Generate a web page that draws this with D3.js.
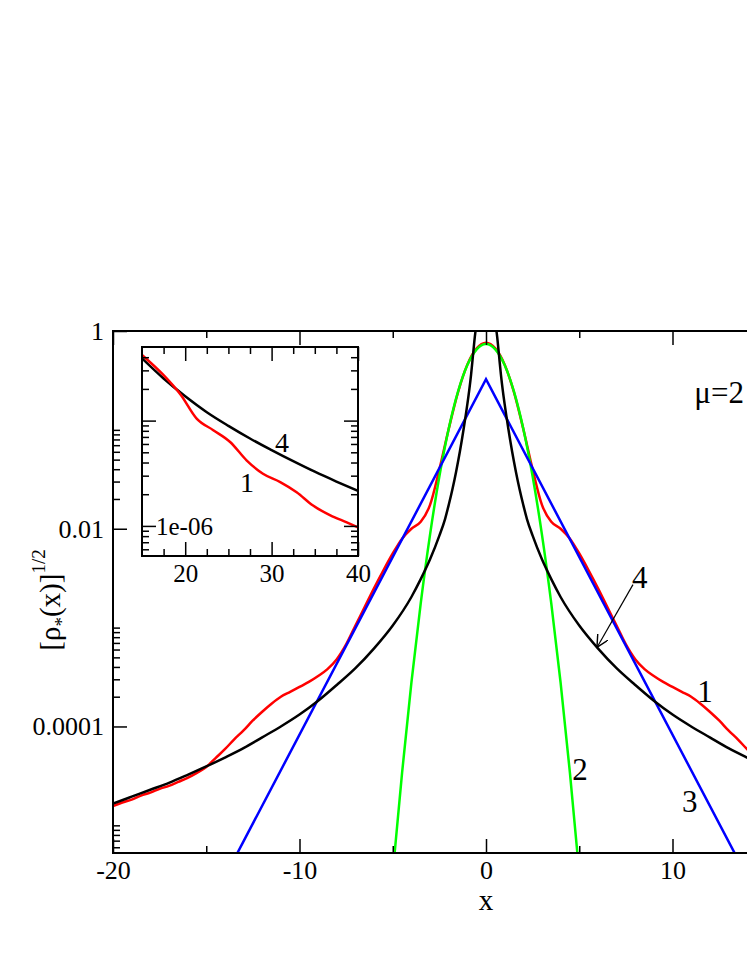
<!DOCTYPE html>
<html>
<head>
<meta charset="utf-8">
<script src="https://cdn.jsdelivr.net/npm/d3@7"></script>
<style>
  body { margin: 0; background: #fff; }
  svg { display: block; }
  text { font-family: 'Liberation Serif', 'Times New Roman', serif; fill: #000; }
</style>
</head>
<body>
<div id="chart"></div>
<script>
// ---- data ----
// curve 1, red
const redX = [-20, -19.5, -19, -18.5, -18, -17.5, -17, -16.5, -16, -15.5, -15, -14.5, -14, -13.5, -13, -12.5, -12, -11.5, -11, -10.5,
  -10, -9.5, -9, -8.5, -8, -7.5, -7, -6.5, -6, -5.5, -5, -4.5, -4, -3.5, -3, -2.5, -2, -1.5, -1, -0.5,
  0, 0.5, 1, 1.5, 2, 2.5, 3, 3.5, 4, 4.5, 5, 5.5, 6, 6.5, 7, 7.5, 8, 8.5, 9, 9.5,
  10, 10.5, 11, 11.5, 12, 12.5, 13, 13.5, 14, 14.5, 15, 15.5, 16, 16.5, 17, 17.5, 18, 18.5, 19, 19.5, 20];
const redY = [1.57e-5, 1.70e-5, 1.82e-5, 2.00e-5, 2.14e-5, 2.34e-5, 2.51e-5, 2.75e-5, 3.02e-5, 3.39e-5, 3.89e-5, 4.79e-5, 5.89e-5, 7.41e-5, 9.12e-5, 1.15e-4, 1.41e-4, 1.70e-4, 2.00e-4, 2.24e-4,
  2.51e-4, 2.82e-4, 3.24e-4, 3.80e-4, 4.79e-4, 6.76e-4, 1.05e-3, 1.62e-3, 2.51e-3, 3.80e-3, 5.62e-3, 7.94e-3, 1.00e-2, 1.175e-2, 1.74e-2, 3.98e-2, 0.102, 0.240, 0.457, 0.668,
  0.762, 0.668, 0.457, 0.240, 0.102, 3.98e-2, 1.74e-2, 1.175e-2, 1.00e-2, 7.94e-3, 5.62e-3, 3.80e-3, 2.51e-3, 1.62e-3, 1.05e-3, 6.76e-4, 4.79e-4, 3.80e-4, 3.24e-4, 2.82e-4,
  2.51e-4, 2.24e-4, 2.00e-4, 1.70e-4, 1.41e-4, 1.15e-4, 9.12e-5, 7.41e-5, 5.89e-5, 4.79e-5, 3.89e-5, 3.39e-5, 3.02e-5, 2.75e-5, 2.51e-5, 2.34e-5, 2.14e-5, 2.00e-5, 1.82e-5, 1.70e-5, 1.57e-5];

// curve 2, green
const greenX = [-5.5, -5, -4.5, -4, -3.5, -3, -2.5, -2, -1.5, -1, -0.5, 0, 0.5, 1, 1.5, 2, 2.5, 3, 3.5, 4, 4.5, 5, 5.5];
const greenY = [2.5e-7, 3.27e-6, 3.40e-5, 2.77e-4, 1.76e-3, 8.73e-3, 3.39e-2, 0.1028, 0.244, 0.452, 0.653, 0.74,
  0.653, 0.452, 0.244, 0.1028, 3.39e-2, 8.73e-3, 1.76e-3, 2.77e-4, 3.40e-5, 3.27e-6, 2.5e-7];

// curve 3, blue
const blueX = [-20, 0, 20];
const blueY = [2.1e-8, 0.325, 2.1e-8];

// curve 4, black
const blackX = [-20, -19, -18, -17, -16, -15, -14, -13, -12, -11, -10, -9, -8, -7, -6, -5, -4, -3.5, -3, -2.5, -2.2, -2, -1.8, -1.6, -1.4, -1.2, -1, -0.9, -0.8, -0.7, -0.6, -0.55, -0.4,
  0.4, 0.55, 0.6, 0.7, 0.8, 0.9, 1, 1.2, 1.4, 1.6, 1.8, 2, 2.2, 2.5, 3, 3.5, 4, 5, 6, 7, 8, 9, 10, 11, 12, 13, 14, 15, 16, 17, 18, 19, 20];
const blackY = [1.66e-5, 1.95e-5, 2.29e-5, 2.69e-5, 3.24e-5, 3.94e-5, 4.84e-5, 6.03e-5, 7.76e-5, 1.00e-4, 1.32e-4, 1.82e-4, 2.63e-4, 3.89e-4, 6.17e-4, 1.05e-3, 2.04e-3, 3.09e-3, 4.90e-3, 8.51e-3, 1.245e-2, 1.74e-2, 2.51e-2, 3.80e-2, 6.03e-2, 0.102, 0.182, 0.251, 0.363, 0.562, 0.871, 1.05, 3.16,
  3.16, 1.05, 0.871, 0.562, 0.363, 0.251, 0.182, 0.102, 6.03e-2, 3.80e-2, 2.51e-2, 1.74e-2, 1.245e-2, 8.51e-3, 4.90e-3, 3.09e-3, 2.04e-3, 1.05e-3, 6.17e-4, 3.89e-4, 2.63e-4, 1.82e-4, 1.32e-4, 1.00e-4, 7.76e-5, 6.03e-5, 4.84e-5, 3.94e-5, 3.24e-5, 2.69e-5, 2.29e-5, 1.95e-5, 1.66e-5];

// inset: tails of curves 1 and 4
const insetRedX = [15, 17.5, 19.5, 21.3, 23.25, 25.2, 27.1, 29, 31, 32.9, 34.8, 36.8, 38.7, 40];
const insetRedY = [4.20e-5, 2.70e-5, 1.75e-5, 1.05e-5, 8.11e-6, 6.27e-6, 4.20e-6, 3.13e-6, 2.61e-6, 2.09e-6, 1.56e-6, 1.26e-6, 1.08e-6, 9.70e-7];
const insetBlackX = [15, 17.5, 20, 22.5, 25, 27.5, 30, 32.5, 35, 37.5, 40];
const insetBlackY = [3.90e-5, 2.51e-5, 1.70e-5, 1.20e-5, 8.91e-6, 6.76e-6, 5.25e-6, 4.12e-6, 3.27e-6, 2.64e-6, 2.15e-6];

// ticks
const xMajor = [-20, -10, 0, 10, 20];
const xMinor = [-15, -5, 5, 15];
const yMajor = [1, 1e-2, 1e-4, 1e-6];
const yMajorLabels = ['1', '0.01', '0.0001', '1e-06'];
const yMinor = [2e-2, 3e-2, 4e-2, 5e-2, 6e-2, 7e-2, 8e-2, 9e-2, 1e-1,
  2e-4, 3e-4, 4e-4, 5e-4, 6e-4, 7e-4, 8e-4, 9e-4, 1e-3,
  6e-6, 7e-6, 8e-6, 9e-6, 1e-5];
const insetXMajor = [20, 30, 40];
const insetXMinor = [17.5, 22.5, 25, 27.5, 32.5, 35, 37.5];
const insetYMajor = [1e-5, 1e-6];
const insetYMinor = [2e-5, 3e-5, 4e-5, 2e-6, 3e-6, 4e-6, 5e-6, 6e-6, 7e-6, 8e-6, 9e-6, 6e-7, 7e-7, 8e-7, 9e-7];

// curve labels (data coordinates)
const curveLabels = [
  {t: '1', x: 11.74, y: 2.26e-4},
  {t: '2', x: 5.04, y: 3.68e-5},
  {t: '3', x: 10.93, y: 1.75e-5},
  {t: '4', x: 8.25, y: 3.27e-3}
];
const insetLabels = [
  {t: '4', x: 31.2, y: 6.22e-6},
  {t: '1', x: 27.15, y: 2.59e-6}
];

// ---- layout ----
const W = 747, H = 967;
const main = {left: 113, top: 331, right: 859, bottom: 853};
const ins = {left: 142, top: 347, right: 358, bottom: 556};

const svg = d3.select('#chart').append('svg')
    .attr('width', W)
    .attr('height', H);

const x = d3.scaleLinear().domain([-20, 20]).range([main.left, main.right]);
const y = d3.scaleLog().domain([5.25e-6, 1]).range([main.bottom, main.top]);

svg.append('clipPath').attr('id', 'clipMain')
  .append('rect')
    .attr('x', main.left).attr('y', main.top)
    .attr('width', main.right - main.left).attr('height', main.bottom - main.top);

// green is drawn over red, as in the original
const curves = [
  {xs: redX, ys: redY, color: '#ff0000', curve: d3.curveMonotoneX},
  {xs: greenX, ys: greenY, color: '#00ff00', curve: d3.curveMonotoneX},
  {xs: blueX, ys: blueY, color: '#0000ff', curve: d3.curveLinear},
  {xs: blackX, ys: blackY, color: '#000000', curve: d3.curveMonotoneX}
];

const plot = svg.append('g').attr('clip-path', 'url(#clipMain)');
curves.forEach(c => {
  const line = d3.line()
      .x(i => x(c.xs[i]))
      .y(i => y(c.ys[i]))
      .curve(c.curve);
  plot.append('path')
      .attr('d', line(d3.range(c.xs.length)))
      .attr('fill', 'none')
      .attr('stroke', c.color)
      .attr('stroke-width', 2.5);
});

// ---- axes helper ----
function styleAxis(g, fontSize) {
  g.select('.domain').remove();
  g.selectAll('.tick line').attr('stroke', '#000').attr('stroke-width', 1.5);
  g.selectAll('.tick text').attr('font-size', fontSize).attr('font-family', "'Liberation Serif', serif").attr('fill', '#000');
  g.attr('font-family', null).attr('font-size', null);
}

function drawAxes(box, xs, ys, o) {
  const bottom = svg.append('g').attr('transform', `translate(0,${box.bottom})`);
  bottom.call(d3.axisBottom(xs).tickValues(o.xMajor).tickSize(-14).tickSizeOuter(0).tickPadding(o.xPad)
      .tickFormat(v => xs(v) < W - 10 ? String(v) : ''));
  styleAxis(bottom, o.font);
  const bottomMinor = svg.append('g').attr('transform', `translate(0,${box.bottom})`);
  bottomMinor.call(d3.axisBottom(xs).tickValues(o.xMinor).tickSize(-7).tickSizeOuter(0).tickFormat(''));
  styleAxis(bottomMinor, o.font);

  const top = svg.append('g').attr('transform', `translate(0,${box.top})`);
  top.call(d3.axisTop(xs).tickValues(o.xMajor).tickSize(-14).tickSizeOuter(0).tickFormat(''));
  styleAxis(top, o.font);
  const topMinor = svg.append('g').attr('transform', `translate(0,${box.top})`);
  topMinor.call(d3.axisTop(xs).tickValues(o.xMinor).tickSize(-7).tickSizeOuter(0).tickFormat(''));
  styleAxis(topMinor, o.font);

  const left = svg.append('g').attr('transform', `translate(${box.left},0)`);
  left.call(d3.axisLeft(ys).tickValues(o.yMajor).tickSize(-14).tickSizeOuter(0).tickPadding(o.yPad)
      .tickFormat(o.yFormat));
  styleAxis(left, o.font);
  const leftMinor = svg.append('g').attr('transform', `translate(${box.left},0)`);
  leftMinor.call(d3.axisLeft(ys).tickValues(o.yMinor).tickSize(-7).tickSizeOuter(0).tickFormat(''));
  styleAxis(leftMinor, o.font);

  const right = svg.append('g').attr('transform', `translate(${box.right},0)`);
  right.call(d3.axisRight(ys).tickValues(o.yMajor).tickSize(-14).tickSizeOuter(0).tickFormat(''));
  styleAxis(right, o.font);
  const rightMinor = svg.append('g').attr('transform', `translate(${box.right},0)`);
  rightMinor.call(d3.axisRight(ys).tickValues(o.yMinor).tickSize(-7).tickSizeOuter(0).tickFormat(''));
  styleAxis(rightMinor, o.font);

  svg.append('rect')
      .attr('x', box.left).attr('y', box.top)
      .attr('width', box.right - box.left).attr('height', box.bottom - box.top)
      .attr('fill', 'none')
      .attr('stroke', '#000')
      .attr('stroke-width', 2);
}

const yMajorIn = yMajor.filter(v => v >= y.domain()[0]);
drawAxes(main, x, y, {
  xMajor: xMajor, xMinor: xMinor, yMajor: yMajorIn, yMinor: yMinor,
  xPad: 8, yPad: 9, font: 26,
  yFormat: v => yMajorLabels[yMajor.indexOf(v)]
});

// axis titles
svg.append('text')
    .attr('x', x(0))
    .attr('y', 910)
    .attr('text-anchor', 'middle')
    .attr('font-size', 29)
    .text('x');

const yTitle = svg.append('text')
    .attr('transform', `translate(60,${(main.top + main.bottom) / 2 + 8}) rotate(-90)`)
    .attr('text-anchor', 'middle')
    .attr('font-size', 29);
yTitle.append('tspan').text('[ρ');
yTitle.append('tspan').attr('font-size', 19).attr('dy', 8).text('*');
yTitle.append('tspan').attr('dy', -8).text('(x)]');
yTitle.append('tspan').attr('font-size', 19).attr('dy', -15).text('1/2');

// curve labels
svg.selectAll('.curve-label')
  .data(curveLabels)
  .join('text')
    .attr('class', 'curve-label')
    .attr('x', d => x(d.x))
    .attr('y', d => y(d.y))
    .attr('dy', '0.35em')
    .attr('text-anchor', 'middle')
    .attr('font-size', 31)
    .text(d => d.t);

svg.append('text')
    .attr('x', x(12.5))
    .attr('y', y(0.242))
    .attr('dy', '0.35em')
    .attr('text-anchor', 'middle')
    .attr('font-size', 31)
    .text('μ=2');

// arrow for label 4
svg.append('defs').append('marker')
    .attr('id', 'arrowHead')
    .attr('viewBox', '0 0 10 10')
    .attr('refX', 10).attr('refY', 5)
    .attr('markerWidth', 12).attr('markerHeight', 12)
    .attr('markerUnits', 'userSpaceOnUse')
    .attr('orient', 'auto')
  .append('path')
    .attr('d', 'M0,0 L10,5 L0,10')
    .attr('fill', 'none')
    .attr('stroke', '#000')
    .attr('stroke-width', 1.2);

svg.append('line')
    .attr('x1', x(7.88)).attr('y1', y(2.72e-3))
    .attr('x2', x(5.95)).attr('y2', y(6.3e-4))
    .attr('stroke', '#000')
    .attr('stroke-width', 1.2)
    .attr('marker-end', 'url(#arrowHead)');

// ---- inset ----
const xi = d3.scaleLinear().domain([15, 40]).range([ins.left, ins.right]);
const yi = d3.scaleLog().domain([5.18e-7, 5e-5]).range([ins.bottom, ins.top]);

svg.append('rect')
    .attr('x', ins.left).attr('y', ins.top)
    .attr('width', ins.right - ins.left).attr('height', ins.bottom - ins.top)
    .attr('fill', '#fff');

svg.append('clipPath').attr('id', 'clipInset')
  .append('rect')
    .attr('x', ins.left).attr('y', ins.top)
    .attr('width', ins.right - ins.left).attr('height', ins.bottom - ins.top);

const insetPlot = svg.append('g').attr('clip-path', 'url(#clipInset)');
[{xs: insetBlackX, ys: insetBlackY, color: '#000000'}, {xs: insetRedX, ys: insetRedY, color: '#ff0000'}].forEach(c => {
  const line = d3.line()
      .x(i => xi(c.xs[i]))
      .y(i => yi(c.ys[i]))
      .curve(d3.curveMonotoneX);
  insetPlot.append('path')
      .attr('d', line(d3.range(c.xs.length)))
      .attr('fill', 'none')
      .attr('stroke', c.color)
      .attr('stroke-width', 2.5);
});

drawAxes(ins, xi, yi, {
  xMajor: insetXMajor, xMinor: insetXMinor, yMajor: insetYMajor, yMinor: insetYMinor,
  xPad: 8, yPad: 8, font: 25,
  yFormat: ''
});

// the inset shows one y label, inside the frame
svg.append('text')
    .attr('x', ins.left + 14)
    .attr('y', yi(1e-6))
    .attr('dy', '0.35em')
    .attr('font-size', 25)
    .text('1e-06');

svg.selectAll('.inset-label')
  .data(insetLabels)
  .join('text')
    .attr('class', 'inset-label')
    .attr('x', d => xi(d.x))
    .attr('y', d => yi(d.y))
    .attr('dy', '0.35em')
    .attr('text-anchor', 'middle')
    .attr('font-size', 28)
    .text(d => d.t);
</script>
</body>
</html>
